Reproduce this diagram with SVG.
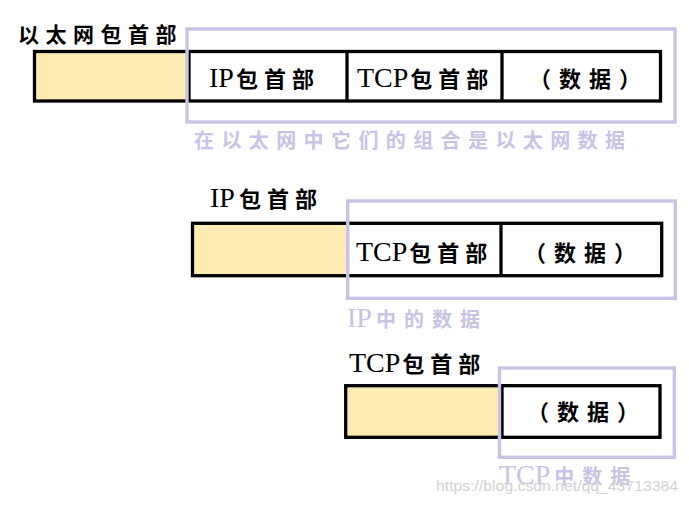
<svg xmlns="http://www.w3.org/2000/svg" width="689" height="505" viewBox="0 0 689 505">
<style>
.bg{fill:#ffffff}
.frame{fill:none;stroke:#000;stroke-width:3.3}
.fill{fill:#FFECB5;stroke:none}
.div{stroke:#000;stroke-width:3.3}
.lav{fill:none;stroke:#C9C3E5;stroke-width:3.4}
.t{font-family:"Liberation Serif","Noto Sans CJK SC",serif;fill:#000}
.lat{font-size:28px}
.cjk{font-family:"Noto Sans CJK SC",sans-serif;font-size:22px;font-weight:700;letter-spacing:6px}
.par{font-family:"Noto Sans CJK SC",sans-serif;font-size:22px;font-weight:700;letter-spacing:8px}
.lt{font-family:"Liberation Serif","Noto Sans CJK SC",serif;fill:#C9C3E5}
.lcjk{font-family:"Noto Sans CJK SC",sans-serif;font-size:20px;font-weight:700;letter-spacing:8px}
.wm{font-family:"Liberation Sans",Arial,sans-serif;font-size:15px;fill:#d2d2d2}
</style>
<rect class="bg" x="0" y="0" width="689" height="505"/>
<g id="connectors"/>

<g id="ethernet-frame">
  <text class="t" x="18" y="42"><tspan class="cjk" style="font-size:21px;letter-spacing:6.5px">以太网包首部</tspan></text>
  <rect class="fill" x="34.5" y="51.5" width="154" height="49.5"/>
  <rect class="frame" x="34.5" y="51.5" width="626" height="49.5"/>
  <line class="div" x1="189" y1="51.5" x2="189" y2="101"/>
  <line class="div" x1="347" y1="51.5" x2="347" y2="101"/>
  <line class="div" x1="502" y1="51.5" x2="502" y2="101"/>
  <text class="t" x="209" y="87"><tspan class="lat">IP</tspan><tspan class="cjk" dx="2">包首部</tspan></text>
  <text class="t" x="357" y="87"><tspan class="lat">TCP</tspan><tspan class="cjk" dx="2">包首部</tspan></text>
  <text class="t" x="529" y="87"><tspan class="par">（数据）</tspan></text>
</g>
<g id="ethernet-data">
  <rect class="lav" x="187" y="29" width="488" height="93"/>
  <text class="lt" x="194" y="148"><tspan class="lcjk" style="letter-spacing:7.4px">在以太网中它们的组合是以太网数据</tspan></text>
</g>

<g id="ip-frame">
  <text class="t" x="210" y="207"><tspan class="lat">IP</tspan><tspan class="cjk" dx="4">包首部</tspan></text>
  <rect class="fill" x="192.5" y="223.3" width="154.5" height="52.4"/>
  <rect class="frame" x="192.5" y="223.3" width="469.2" height="52.4"/>
  <line class="div" x1="501" y1="223.3" x2="501" y2="275.7"/>
  <text class="t" x="356" y="261"><tspan class="lat">TCP</tspan><tspan class="cjk" dx="2">包首部</tspan></text>
  <text class="t" x="524" y="261"><tspan class="par">（数据）</tspan></text>
</g>
<g id="ip-data">
  <rect class="lav" x="347.7" y="201" width="327.6" height="97.3"/>
  <text class="lt" x="347" y="327"><tspan class="lat">IP</tspan><tspan class="lcjk" dx="4">中的数据</tspan></text>
</g>

<g id="tcp-frame">
  <text class="t" x="349" y="372"><tspan class="lat">TCP</tspan><tspan class="cjk" dx="2">包首部</tspan></text>
  <rect class="fill" x="345.7" y="385.7" width="153.5" height="51.6"/>
  <rect class="frame" x="345.7" y="385.7" width="314.3" height="51.6"/>
  <line class="div" x1="502" y1="385.7" x2="502" y2="437.3"/>
  <text class="t" x="527" y="420"><tspan class="par">（数据）</tspan></text>
</g>
<g id="tcp-data">
  <rect class="lav" x="499.5" y="368" width="174.8" height="89.3"/>
  <text class="lt" x="499" y="484"><tspan class="lat">TCP</tspan><tspan class="lcjk" dx="4">中数据</tspan></text>
</g>

<text class="wm" x="436" y="491" textLength="242" lengthAdjust="spacingAndGlyphs">https://blog.csdn.net/qq_43713384</text>
</svg>
